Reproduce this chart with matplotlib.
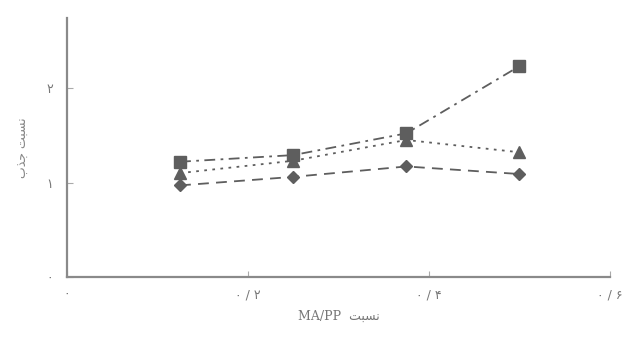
import matplotlib
matplotlib.use("Agg")
import matplotlib.pyplot as plt

x_vals = [0.125, 0.25, 0.375, 0.5]
squares = [1.22, 1.29, 1.52, 2.23]
triangles = [1.10, 1.23, 1.45, 1.32]
diamonds = [0.97, 1.06, 1.17, 1.09]

x_ticks = [0, 0.2, 0.4, 0.6]
x_tick_labels = ["\u06F0", "\u06F0 / \u06F2", "\u06F0 / \u06F4", "\u06F0 / \u06F6"]
y_ticks = [0, 1, 2]
y_tick_labels = ["\u06F0", "\u06F1", "\u06F2"]

x_label = "MA/PP  \uFE96\uFE92\uFEB4\uFEE7"
y_label = "\uFE8F\uFEAC\uFE9F \uFE96\uFE92\uFEB4\uFEE7"

plt.rcParams['font.family'] = ['DejaVu Sans']

fig = plt.figure(figsize=(6.25, 3.38), dpi=100)
ax = fig.add_axes([0.107, 0.18, 0.869, 0.767])

col = "#5e5e5e"
ax.plot(x_vals, squares, linestyle=(0, (6, 3, 1.5, 3)), color=col, lw=1.3,
        marker="s", ms=8, mfc=col, mec=col, zorder=3)
ax.plot(x_vals, triangles, linestyle=(0, (1.5, 3)), color=col, lw=1.3,
        marker="^", ms=8, mfc=col, mec=col, zorder=2)
ax.plot(x_vals, diamonds, linestyle=(0, (6, 4)), color=col, lw=1.3,
        marker="D", ms=6.5, mfc=col, mec=col, zorder=2)

ax.set_xlim(0, 0.6)
ax.set_ylim(0, 2.74)
ax.set_xticks(x_ticks)
ax.set_xticklabels(x_tick_labels)
ax.set_yticks(y_ticks)
ax.set_yticklabels(y_tick_labels)
ax.tick_params(direction="in", length=4, color="#aaaaaa", labelcolor="#777777",
               labelsize=9)
ax.tick_params(axis="y", pad=10)
ax.tick_params(axis="x", pad=8)

for s in ["top", "right"]:
    ax.spines[s].set_visible(False)
for s in ["left", "bottom"]:
    ax.spines[s].set_color("#8a8a8a")
    ax.spines[s].set_linewidth(1.6)

ax.set_xlabel(x_label, color="#777777", fontsize=9,
              family=["DejaVu Serif", "DejaVu Sans"], labelpad=6)
ax.set_ylabel(y_label, color="#888888", fontsize=9, labelpad=12)

fig.savefig("out.png", dpi=100)
